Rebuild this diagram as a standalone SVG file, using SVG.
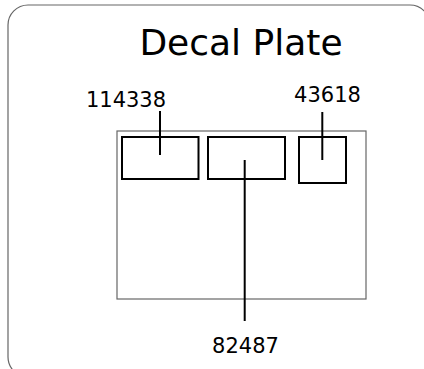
<svg xmlns="http://www.w3.org/2000/svg" width="424" height="369" viewBox="0 0 424 369">
<style>
.frame{fill:none;stroke:#666;stroke-width:1.2}
.box{fill:none;stroke:#000;stroke-width:2}
.conn{stroke:#000;stroke-width:2;fill:none}
text{font-family:"DejaVu Sans","Liberation Sans",sans-serif;fill:#000;text-anchor:middle}
.lbl{font-size:21px}
</style>
<rect width="424" height="369" fill="#fff"/>
<g id="border"><rect class="frame" x="8" y="5" width="422" height="372" rx="20" ry="20"/></g>
<g id="title"><text x="241" y="55" font-size="36">Decal Plate</text></g>
<g id="plate"><rect class="frame" x="117" y="131" width="249" height="168"/></g>
<g id="box1"><rect class="box" x="122" y="137" width="76.5" height="42"/></g>
<g id="box2"><rect class="box" x="208" y="137" width="77" height="42"/></g>
<g id="box3"><rect class="box" x="299" y="137" width="47" height="46"/></g>
<g id="label1"><text class="lbl" x="126" y="107">114338</text></g>
<g id="label2"><text class="lbl" x="245.5" y="353">82487</text></g>
<g id="label3"><text class="lbl" x="327.5" y="101.5">43618</text></g>
<g id="connectors">
<line class="conn" x1="160" y1="111" x2="160" y2="155"/>
<line class="conn" x1="244.7" y1="160" x2="244.7" y2="321"/>
<line class="conn" x1="322.3" y1="112" x2="322.3" y2="160"/>
</g>
</svg>
